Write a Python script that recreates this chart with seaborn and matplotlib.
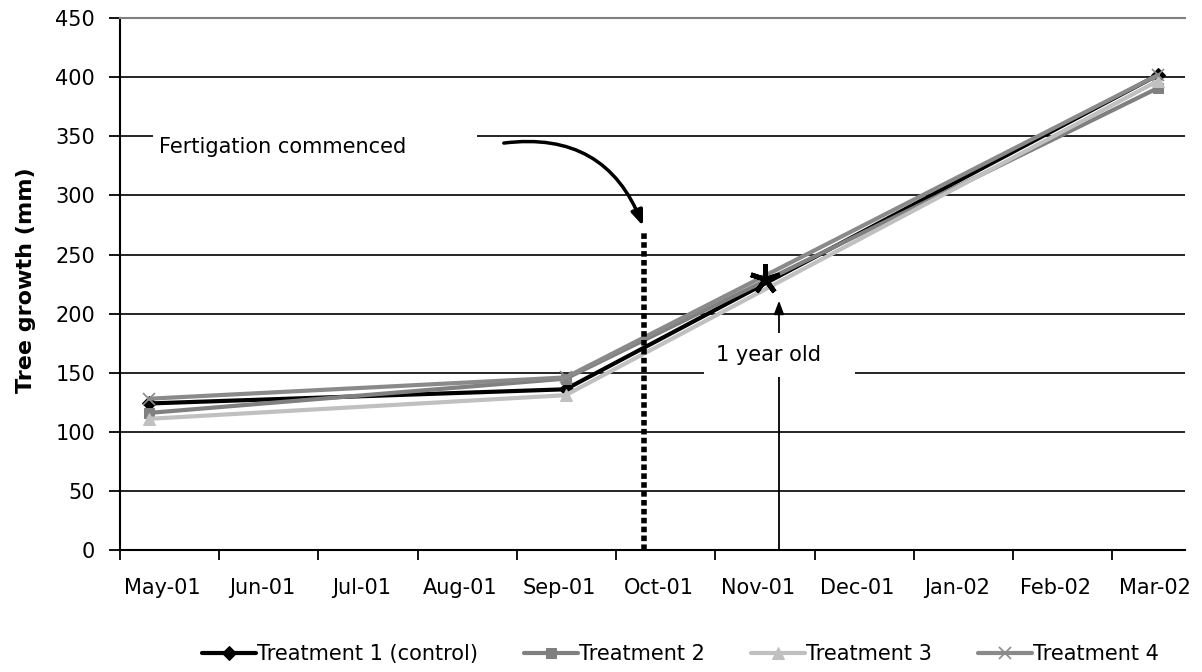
import pandas as pd
import matplotlib.pyplot as plt
import seaborn as sns
from matplotlib.patches import Rectangle


# months on the category/date axis
months = ["May-01", "Jun-01", "Jul-01", "Aug-01", "Sep-01", "Oct-01",
          "Nov-01", "Dec-01", "Jan-02", "Feb-02", "Mar-02"]
# measurement dates, expressed as months after 1 May 2001
sample_month = [0.29, 4.49, 10.46]

treatment_1 = [124, 136, 402]
treatment_2 = [116, 145, 391]
treatment_3 = [111, 131, 397]
treatment_4 = [128, 146, 402]

series_names = ["Treatment 1 (control)", "Treatment 2", "Treatment 3", "Treatment 4"]
series_values = [treatment_1, treatment_2, treatment_3, treatment_4]

fertigation_month = 5.28
one_year_month = 6.5


def main():
    sns.set_style("white")
    plt.rcParams['font.family'] = ['DejaVu Sans']
    plt.rcParams['text.color'] = 'black'
    plt.rcParams['axes.labelcolor'] = 'black'
    plt.rcParams['xtick.color'] = 'black'
    plt.rcParams['ytick.color'] = 'black'

    fig = plt.figure(figsize=(12.02, 6.72), dpi=100)
    ax = fig.add_axes([0.0998, 0.1815, 0.886, 0.7915])

    rows = []
    for name, vals in zip(series_names, series_values):
        for m, v in zip(sample_month, vals):
            rows.append({"month": m, "growth": v, "series": name})
    df = pd.DataFrame(rows)

    styles = {
        "Treatment 1 (control)": dict(color="black", marker="D", markersize=7.5,
                                      markeredgecolor="black"),
        "Treatment 2": dict(color="#808080", marker="s", markersize=7,
                            markeredgecolor="#808080"),
        "Treatment 3": dict(color="#C0C0C0", marker="^", markersize=9,
                            markeredgecolor="#C0C0C0"),
        "Treatment 4": dict(color="#8a8a8a", marker="x", markersize=9,
                            markeredgewidth=1.2, markeredgecolor="#8a8a8a"),
    }
    for name in series_names:
        sub = df[df["series"] == name]
        sns.lineplot(data=sub, x="month", y="growth", ax=ax, label=name,
                     linewidth=3, zorder=5, legend=False, **styles[name])

    # axes look
    ax.set_ylim(0, 450)
    ax.set_xlim(0, 10.73)
    ax.set_yticks(range(0, 451, 50))
    for yv in range(50, 401, 50):
        ax.axhline(yv, color="black", lw=1.2, zorder=1)
    ax.spines['top'].set_color("#808080")
    ax.spines['top'].set_linewidth(1.5)
    ax.spines['right'].set_visible(False)
    ax.spines['left'].set_linewidth(1.5)
    ax.spines['bottom'].set_linewidth(1.5)
    ax.spines['left'].set_color("black")
    ax.spines['bottom'].set_color("black")

    ax.set_xticks(range(len(months)))
    ax.set_xticklabels([])
    ax.set_xticks([i + 0.43 for i in range(len(months))], minor=True)
    ax.set_xticklabels(months, minor=True)
    ax.tick_params(axis='x', which='major', direction='out', length=7, width=1.3,
                   color='black', bottom=True)
    ax.tick_params(axis='x', which='minor', length=0, pad=20, labelsize=15,
                   labelcolor='black')
    ax.tick_params(axis='y', direction='out', length=8, width=1.3, color='black',
                   left=True, labelsize=15, pad=10, labelcolor='black')

    ax.set_xlabel("")
    ax.set_ylabel("Tree growth (mm)", fontsize=16, fontweight='bold',
                  color='black')
    ax.yaxis.set_label_coords(-0.079, 0.507)

    # fertigation annotation
    ax.add_patch(Rectangle((0.33, 321), 3.27, 39, facecolor="white",
                           edgecolor="none", zorder=2))
    ax.text(0.39, 341, "Fertigation commenced", fontsize=15, va="center",
            ha="left", zorder=3, color='black')
    ax.plot([fertigation_month, fertigation_month], [0, 269], color="black",
            lw=4, linestyle=(0, (1.0, 0.6)), zorder=6)
    ax.annotate("", xy=(fertigation_month, 272), xytext=(3.84, 344),
                arrowprops=dict(arrowstyle="-|>,head_length=0.9,head_width=0.35",
                                color="black", lw=2.5,
                                connectionstyle="arc3,rad=-0.4"),
                zorder=6)

    # 1 year old annotation
    ax.annotate("", xy=(6.64, 211), xytext=(6.64, 0),
                arrowprops=dict(arrowstyle="-|>,head_length=0.8,head_width=0.3",
                                color="black", lw=1.3, shrinkA=0, shrinkB=0),
                zorder=3)
    ax.add_patch(Rectangle((5.88, 146), 1.53, 38, facecolor="white",
                           edgecolor="none", zorder=4))
    ax.text(6.53, 165, "1 year old", fontsize=15, va="center", ha="center",
            zorder=5, color='black')
    ax.plot([one_year_month], [229], marker=(5, 2, 0), markersize=22,
            markeredgewidth=3.5, color="black", zorder=8)

    handles, labels = ax.get_legend_handles_labels()
    leg = fig.legend(handles, labels, loc="center", bbox_to_anchor=(0.566, 0.027),
                     ncol=4, frameon=False, fontsize=15, handlelength=2.6,
                     handletextpad=0.05, columnspacing=2.2)
    for t in leg.get_texts():
        t.set_color('black')

    plt.savefig("out.png", dpi=100)


if __name__ == "__main__":
    main()
